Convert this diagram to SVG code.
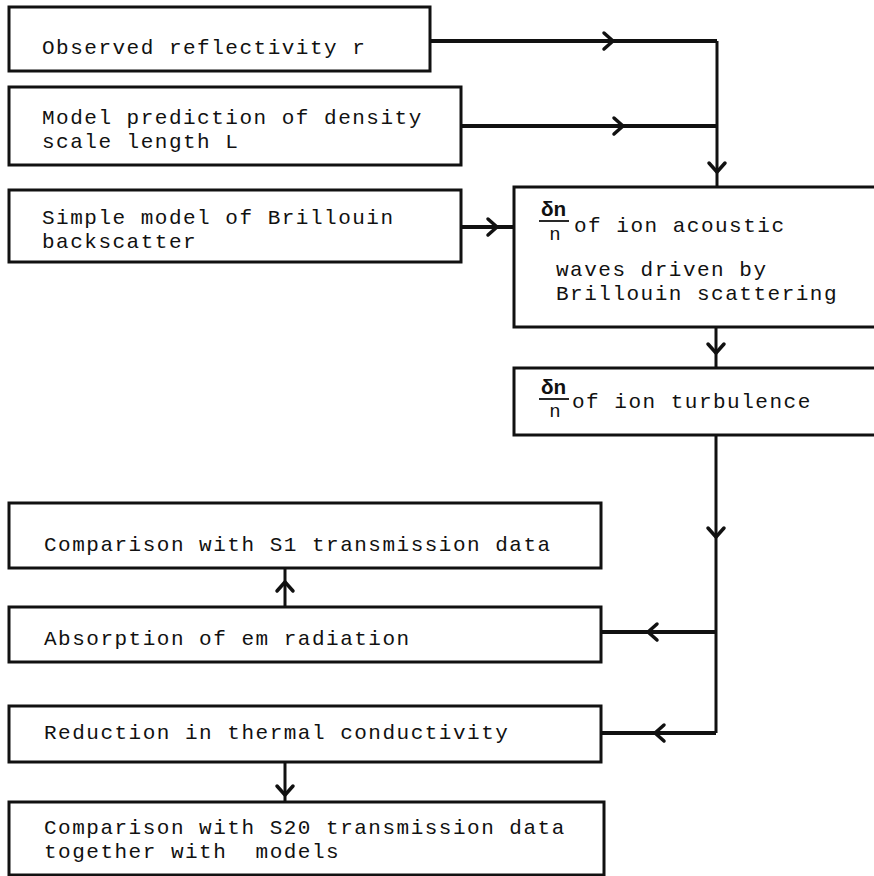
<svg xmlns="http://www.w3.org/2000/svg" xmlns:xlink="http://www.w3.org/1999/xlink" width="874" height="876" viewBox="0 0 874 876">
  <style>
    .box { fill: #fff; stroke: #111; stroke-width: 3; }
    .lbl { font-family: "Liberation Mono", "DejaVu Sans Mono", monospace; font-size: 21px; letter-spacing: 1.5px; fill: #111; }
    .num { font-family: "Liberation Mono", "DejaVu Sans Mono", monospace; font-size: 21px; font-weight: bold; fill: #111; }
    .den { font-family: "Liberation Mono", "DejaVu Sans Mono", monospace; font-size: 19px; fill: #111; }
    .wire { fill: none; stroke: #111; stroke-width: 3; stroke-linejoin: round; }
    .thick { stroke-width: 4; }
    .bar { stroke: #111; stroke-width: 1.8; }
  </style>
  <defs>
    <!-- open chevron arrowhead, pointing along +x -->
    <path id="chev" d="M-9,-8 L0,0 L-9,8" fill="none" stroke="#111" stroke-width="3.5" stroke-linecap="round" stroke-linejoin="round"/>
  </defs>
  <rect width="874" height="876" fill="#fff"/>

  <g id="connectors">
    <path class="wire thick" d="M430,41 H717"/>
    <path class="wire thick" d="M461,126 H717"/>
    <path class="wire" d="M717,41 V187"/>
    <path class="wire thick" d="M461,227 H514"/>
    <path class="wire" d="M716,327 V368"/>
    <path class="wire" d="M716,435 V733"/>
    <path class="wire thick" d="M716,632 H601"/>
    <path class="wire thick" d="M716,733 H601"/>
    <path class="wire" d="M285,607 V568"/>
    <path class="wire" d="M285,762 V802"/>
    <use xlink:href="#chev" transform="translate(613,41)"/>
    <use xlink:href="#chev" transform="translate(623,126)"/>
    <use xlink:href="#chev" transform="translate(717,172) rotate(90)"/>
    <use xlink:href="#chev" transform="translate(497,227)"/>
    <use xlink:href="#chev" transform="translate(716,353) rotate(90)"/>
    <use xlink:href="#chev" transform="translate(716,537) rotate(90)"/>
    <use xlink:href="#chev" transform="translate(648,632) rotate(180)"/>
    <use xlink:href="#chev" transform="translate(655,733) rotate(180)"/>
    <use xlink:href="#chev" transform="translate(285,582) rotate(-90)"/>
    <use xlink:href="#chev" transform="translate(285,795) rotate(90)"/>
  </g>

  <g id="reflectivity">
    <rect class="box" x="9" y="7" width="421" height="64"/>
    <text class="lbl" x="42" y="54">Observed reflectivity r</text>
  </g>

  <g id="scale-length">
    <rect class="box" x="9" y="87" width="452" height="78"/>
    <text class="lbl" x="42" y="124">Model prediction of density</text>
    <text class="lbl" x="42" y="148">scale length L</text>
  </g>

  <g id="brillouin-model">
    <rect class="box" x="9" y="190" width="452" height="72"/>
    <text class="lbl" x="42" y="224">Simple model of Brillouin</text>
    <text class="lbl" x="42" y="248">backscatter</text>
  </g>

  <g id="ion-acoustic">
    <rect class="box" x="514" y="187" width="370" height="140"/>
    <text class="num" x="541" y="216">δn</text>
    <line class="bar" x1="539" y1="221" x2="569" y2="221"/>
    <text class="den" x="555" y="240" text-anchor="middle">n</text>
    <text class="lbl" x="574" y="232">of ion acoustic</text>
    <text class="lbl" x="556" y="276">waves driven by</text>
    <text class="lbl" x="556" y="300">Brillouin scattering</text>
  </g>

  <g id="ion-turbulence">
    <rect class="box" x="514" y="368" width="370" height="67"/>
    <text class="num" x="541" y="394">δn</text>
    <line class="bar" x1="539" y1="399" x2="569" y2="399"/>
    <text class="den" x="555" y="417" text-anchor="middle">n</text>
    <text class="lbl" x="572" y="408">of ion turbulence</text>
  </g>

  <g id="s1-comparison">
    <rect class="box" x="9" y="503" width="592" height="65"/>
    <text class="lbl" x="44" y="551">Comparison with S1 transmission data</text>
  </g>

  <g id="absorption">
    <rect class="box" x="9" y="607" width="592" height="55"/>
    <text class="lbl" x="44" y="645">Absorption of em radiation</text>
  </g>

  <g id="conductivity">
    <rect class="box" x="9" y="706" width="592" height="56"/>
    <text class="lbl" x="44" y="739">Reduction in thermal conductivity</text>
  </g>

  <g id="s20-comparison">
    <rect class="box" x="9" y="802" width="595" height="73"/>
    <text class="lbl" x="44" y="834">Comparison with S20 transmission data</text>
    <text class="lbl" x="44" y="858" xml:space="preserve">together with  models</text>
  </g>
</svg>
